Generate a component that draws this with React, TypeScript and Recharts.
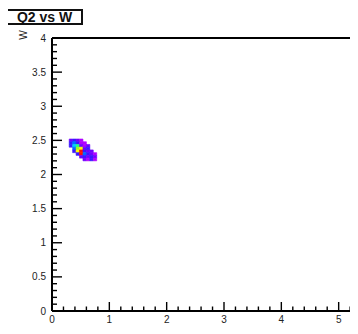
import React from "react";
import { ScatterChart, Scatter, XAxis, YAxis, ReferenceArea, ReferenceLine } from "recharts";

// 2D histogram of W against Q2 (COLZ-style cells)
const binWidthX = 0.06;
const binWidthY = 0.04;
const firstBinX = 0.3;
// lower edges of the W rows, top row first
const rowEdgesY = [2.48, 2.44, 2.4, 2.36, 2.32, 2.28, 2.24, 2.2];
// bin contents per row (0 = empty), columns start at firstBinX
const counts = [
  [2, 3, 2, 1, 0, 0, 0, 0],
  [3, 4, 3, 1, 1, 0, 0, 0],
  [3, 5, 6, 2, 1, 2, 0, 0],
  [0, 4, 7, 8, 2, 3, 0, 0],
  [0, 3, 8, 10, 3, 2, 2, 0],
  [0, 0, 3, 10, 4, 3, 2, 1],
  [0, 0, 0, 2, 3, 2, 3, 2],
  [0, 0, 0, 0, 2, 1, 3, 1],
];
const maxCount = 10;

// rainbow palette, low to high
const palette = [
  "#b000ff",
  "#7000ff",
  "#3a18ff",
  "#0070ff",
  "#00d0ff",
  "#22ff88",
  "#99ff22",
  "#ffff00",
  "#ff9900",
  "#ff1100",
];

const xMajorLabels = [0, 1, 2, 3, 4, 5];
const yMajorLabels = [0, 0.5, 1, 1.5, 2, 2.5, 3, 3.5, 4];
const xMinorStep = 0.2;
const yMinorStep = 0.1;

const steps = (max: number, step: number) =>
  Array.from({ length: Math.round(max / step) + 1 }, (_, i) => +(i * step).toFixed(2));
const xTicks = steps(6, xMinorStep);
const yTicks = steps(4, yMinorStep);

const cells: { x1: number; x2: number; y1: number; y2: number; n: number }[] = [];
counts.forEach((row, r) =>
  row.forEach((n, c) => {
    if (!n) return;
    const x1 = +(firstBinX + c * binWidthX).toFixed(2);
    cells.push({ x1, x2: +(x1 + binWidthX).toFixed(2), y1: rowEdgesY[r], y2: +(rowEdgesY[r] + binWidthY).toFixed(2), n });
  })
);

const colorFor = (n: number) =>
  palette[Math.min(palette.length - 1, Math.floor(((n - 1) / maxCount) * palette.length))];

const isMajor = (v: number, labels: number[]) => labels.some((l) => Math.abs(l - v) < 1e-6);

const XTick = ({ x, y, payload }: any) => {
  const v = payload.value;
  const major = isMajor(v, xMajorLabels);
  return (
    <g>
      <line x1={x} x2={x} y1={y} y2={y - (major ? 9 : 4.5)} stroke="#000" strokeWidth={1.4} />
      {major && (
        <text x={x} y={y + 12} textAnchor="middle" fontSize={10} fill="#222">
          {v}
        </text>
      )}
    </g>
  );
};

const YTick = ({ x, y, payload }: any) => {
  const v = payload.value;
  const major = isMajor(v, yMajorLabels);
  return (
    <g>
      <line x1={x} x2={x + (major ? 10 : 5)} y1={y} y2={y} stroke="#000" strokeWidth={1.4} />
      {major && (
        <text x={x - 6} y={y + 3.5} textAnchor="end" fontSize={10} fill="#222">
          {v}
        </text>
      )}
    </g>
  );
};

export default function App() {
  return (
    <div
      style={{
        position: "relative",
        margin: "-8px 0 0 -8px",
        width: 358,
        height: 334,
        overflow: "hidden",
        background: "#fff",
        fontFamily: "'Liberation Sans', Arial, sans-serif",
      }}
    >
      <ScatterChart width={420} height={334} margin={{ top: 38, right: 24, bottom: 0, left: 0 }}>
        <XAxis
          type="number"
          dataKey="x1"
          domain={[0, 6]}
          ticks={xTicks}
          interval={0}
          height={23}
          tickSize={0}
          tickMargin={0}
          tickLine={false}
          axisLine={{ stroke: "#000", strokeWidth: 2 }}
          tick={<XTick />}
          allowDataOverflow
        />
        <YAxis
          type="number"
          dataKey="y1"
          domain={[0, 4]}
          ticks={yTicks}
          interval={0}
          width={52}
          tickSize={0}
          tickMargin={0}
          tickLine={false}
          axisLine={{ stroke: "#000", strokeWidth: 2 }}
          tick={<YTick />}
          allowDataOverflow
        />
        <ReferenceLine y={4} stroke="#000" strokeWidth={2} />
        {cells.map((c, i) => (
          <ReferenceArea
            key={i}
            x1={c.x1}
            x2={c.x2}
            y1={c.y1}
            y2={c.y2}
            fill={colorFor(c.n)}
            fillOpacity={1}
            stroke={colorFor(c.n)}
            strokeWidth={0.6}
          />
        ))}
        <Scatter data={cells} isAnimationActive={false} fill="none" shape={() => <g />} />
      </ScatterChart>
      <div
        style={{
          position: "absolute",
          left: 6,
          top: 9,
          width: 73,
          height: 12,
          border: "2px solid #111",
          background: "#fff",
          fontSize: 14,
          fontWeight: "bold",
          lineHeight: "12px",
          textAlign: "center",
          color: "#111",
        }}
      >
        Q2 vs W
      </div>
      <div
        style={{
          position: "absolute",
          left: 18,
          top: 29,
          width: 12,
          height: 12,
          fontSize: 10,
          lineHeight: "12px",
          textAlign: "center",
          color: "#222",
          transform: "rotate(-90deg)",
        }}
      >
        W
      </div>
    </div>
  );
}
